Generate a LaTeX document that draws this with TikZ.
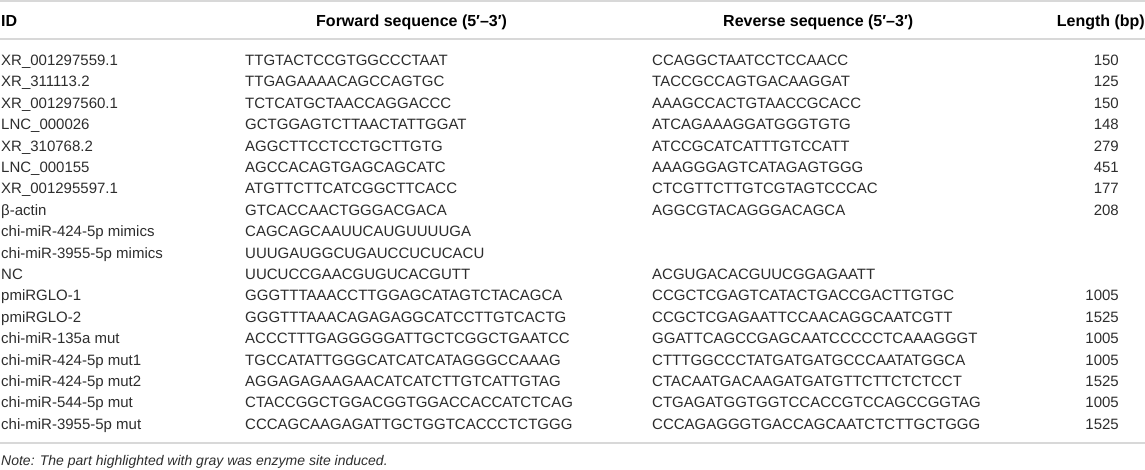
\documentclass[tikz,border=0pt]{standalone}
\usepackage{fontspec}
\setmainfont{Liberation Sans}
\definecolor{rulegray}{RGB}{216,216,216}
\definecolor{bodytext}{RGB}{45,45,45}

\begin{document}
\begin{tikzpicture}[x=1pt,y=-1pt,
                    every node/.style={inner sep=0pt,text=bodytext,font=\fontsize{15}{18}\selectfont},
                    head cell/.style={text=black,font=\fontsize{16}{19}\selectfont\bfseries},
                    left cell/.style={anchor=base west},
                    right cell/.style={anchor=base east},
                    rule/.style={draw=rulegray,line width=1.6pt}]

  \useasboundingbox (0,0) rectangle (1145,469);

  % header
  \node[head cell,left cell]  (hid)  at (1,26.3)    {ID};
  \node[head cell,left cell]  (hfw)  at (316,26.3)  {Forward sequence (5′–3′)};
  \node[head cell,left cell]  (hrv)  at (723,26.3)  {Reverse sequence (5′–3′)};
  \node[head cell,right cell] (hlen) at (1145,26.3) {Length (bp)};

  \draw[rule] (0,1) -- (1145,1);
  \draw[rule] (0,39) -- (1145,39);

  % rows
  \foreach \id/\fw/\rv/\len [count=\i] in {
      XR\_001297559.1/TTGTACTCCGTGGCCCTAAT/CCAGGCTAATCCTCCAACC/150,
      XR\_311113.2/TTGAGAAAACAGCCAGTGC/TACCGCCAGTGACAAGGAT/125,
      XR\_001297560.1/TCTCATGCTAACCAGGACCC/AAAGCCACTGTAACCGCACC/150,
      LNC\_000026/GCTGGAGTCTTAACTATTGGAT/ATCAGAAAGGATGGGTGTG/148,
      XR\_310768.2/AGGCTTCCTCCTGCTTGTG/ATCCGCATCATTTGTCCATT/279,
      LNC\_000155/AGCCACAGTGAGCAGCATC/AAAGGGAGTCATAGAGTGGG/451,
      XR\_001295597.1/ATGTTCTTCATCGGCTTCACC/CTCGTTCTTGTCGTAGTCCCAC/177,
      β-actin/GTCACCAACTGGGACGACA/AGGCGTACAGGGACAGCA/208,
      chi-miR-424-5p mimics/CAGCAGCAAUUCAUGUUUUGA/{}/{},
      chi-miR-3955-5p mimics/UUUGAUGGCUGAUCCUCUCACU/{}/{},
      NC/UUCUCCGAACGUGUCACGUTT/ACGUGACACGUUCGGAGAATT/{},
      pmiRGLO-1/GGGTTTAAACCTTGGAGCATAGTCTACAGCA/CCGCTCGAGTCATACTGACCGACTTGTGC/1005,
      pmiRGLO-2/GGGTTTAAACAGAGAGGCATCCTTGTCACTG/CCGCTCGAGAATTCCAACAGGCAATCGTT/1525,
      chi-miR-135a mut/ACCCTTTGAGGGGGATTGCTCGGCTGAATCC/GGATTCAGCCGAGCAATCCCCCTCAAAGGGT/1005,
      chi-miR-424-5p mut1/TGCCATATTGGGCATCATCATAGGGCCAAAG/CTTTGGCCCTATGATGATGCCCAATATGGCA/1005,
      chi-miR-424-5p mut2/AGGAGAGAAGAACATCATCTTGTCATTGTAG/CTACAATGACAAGATGATGTTCTTCTCTCCT/1525,
      chi-miR-544-5p mut/CTACCGGCTGGACGGTGGACCACCATCTCAG/CTGAGATGGTGGTCCACCGTCCAGCCGGTAG/1005,
      chi-miR-3955-5p mut/CCCAGCAAGAGATTGCTGGTCACCCTCTGGG/CCCAGAGGGTGACCAGCAATCTCTTGCTGGG/1525}
  {
    \node[left cell]  (id\i)  at (1,{44+21.4*\i})    {\id};
    \node[left cell]  (fw\i)  at (245,{44+21.4*\i})  {\fw};
    \node[left cell]  (rv\i)  at (652,{44+21.4*\i})  {\rv};
    \node[right cell] (len\i) at (1119,{44+21.4*\i}) {\len};
  }

  \draw[rule] (0,443) -- (1145,443);

  % note
  \node[left cell,font=\fontsize{14}{17}\selectfont\itshape] (note) at (1,465)
    {Note: The part highlighted with gray was enzyme site induced.};
\end{tikzpicture}
\end{document}
